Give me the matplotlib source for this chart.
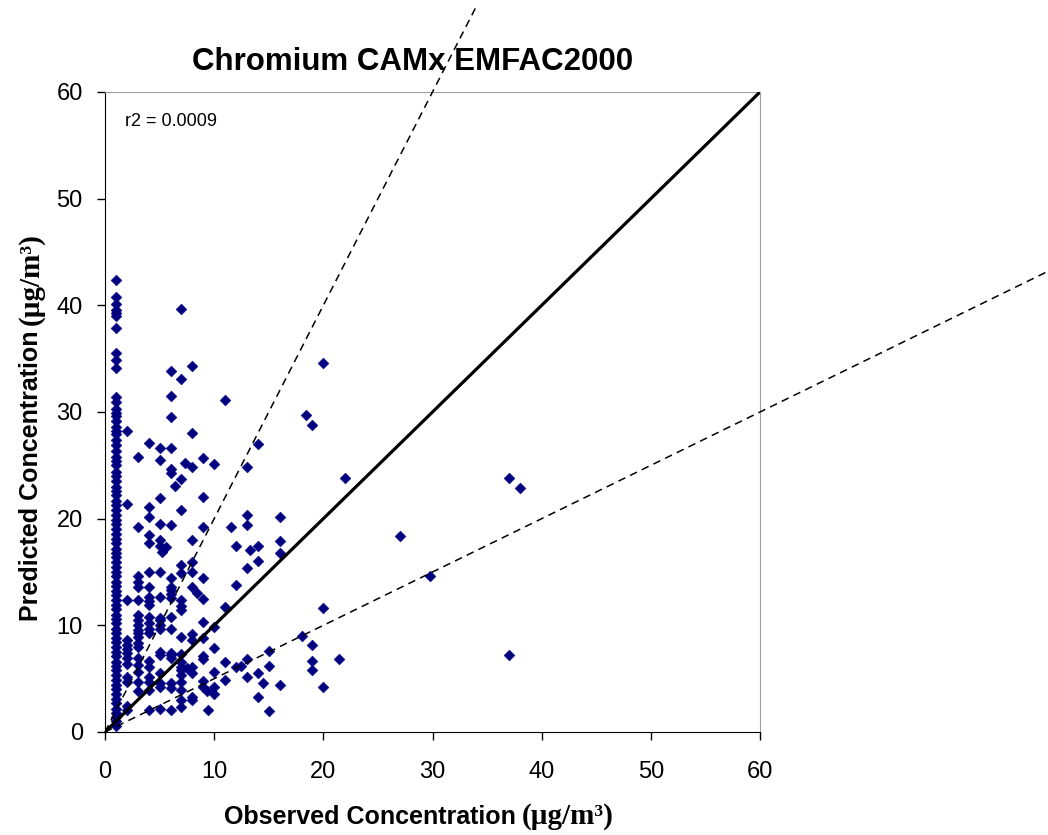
"""Chromium CAMx EMFAC2000: predicted vs observed concentration scatter."""

import matplotlib

matplotlib.use("Agg")
import matplotlib.pyplot as plt
import numpy as np

TITLE = "Chromium CAMx EMFAC2000"
R2_TEXT = "r2 = 0.0009"
X_HEAD, X_TAIL = "Observed Concentration", "(\u00b5g/m\u00b3)"
Y_HEAD, Y_TAIL = "Predicted Concentration", "(\u00b5g/m\u00b3)"
AXIS_TICKS = [0, 10, 20, 30, 40, 50, 60]

pred_obs1 = [
    42.4, 40.8, 40.1, 39.6, 39.3, 39.0, 37.9, 35.5, 34.9, 34.1,
    31.4, 30.9, 30.3, 29.9, 29.6, 29.2, 28.6, 28.2, 27.9, 27.4,
    26.9, 26.3, 25.8, 25.4, 25.0, 24.4, 24.0, 23.5, 23.0, 22.6,
    22.2, 21.7, 21.3, 20.8, 20.3, 19.9, 19.5, 19.0, 18.6, 18.1,
    17.7, 17.2, 16.8, 16.4, 15.9, 15.5, 15.0, 14.6, 14.1, 13.7,
    13.2, 12.8, 12.4, 11.9, 11.5, 11.0, 10.6, 10.2, 9.7, 9.3,
    8.8, 8.4, 8.0, 7.5, 7.1, 6.6, 6.2, 5.8, 5.3, 4.9,
    4.4, 4.0, 3.6, 3.1, 2.7, 2.2, 1.8, 1.4, 1.0, 0.6,
]
pred_obs2 = [28.2, 21.4, 12.4, 8.6, 8.2, 7.8, 7.4, 6.9, 6.4, 5.2, 4.7, 2.4, 2.1]
pred_obs3 = [25.8, 19.2, 14.6, 14.1, 13.6, 12.4, 11.0, 10.5, 10.0, 9.6,
             9.3, 8.9, 8.3, 8.0, 6.9, 6.3, 5.6, 4.7, 3.8]
pred_obs4 = [27.1, 21.1, 20.2, 18.5, 17.7, 15.0, 13.6, 12.7, 12.3, 11.9,
             10.8, 10.2, 9.7, 9.3, 6.7, 6.1, 5.2, 4.7, 3.9, 2.1]
pred_obs5 = [26.6, 25.5, 21.9, 19.5, 18.0, 17.4, 15.0, 12.7, 10.7, 10.5,
             10.0, 9.7, 7.5, 7.2, 5.5, 4.6, 4.2, 2.2]
pred_obs6 = [33.8, 31.5, 29.5, 26.6, 24.7, 24.3, 19.4, 14.4, 13.6, 13.3,
             12.9, 12.6, 10.8, 9.7, 7.4, 7.2, 6.9, 4.6, 4.1, 2.1]
pred_obs7 = [39.7, 33.1, 23.7, 20.8, 15.7, 14.9, 12.4, 11.8, 11.4, 8.9,
             7.3, 6.6, 6.1, 5.8, 5.3, 4.7, 3.9, 3.0, 2.3]
pred_obs8 = [34.3, 28.0, 24.8, 18.0, 15.9, 15.0, 13.6, 9.2, 8.6, 6.1,
             5.5, 3.3, 3.0]
pred_obs9 = [25.7, 22.0, 19.2, 14.4, 12.5, 10.3, 8.8, 7.1, 6.8, 4.8, 4.2]
pred_obs10 = [25.1, 9.8, 7.9, 5.6, 4.2, 3.6]

# remaining scattered sites
obs_other = [5.2, 5.6, 6.4, 7.3, 7.5, 8.4, 9.3, 9.4,
             11, 11, 11, 11, 11.5, 12, 12, 12, 12.5,
             13, 13, 13, 13, 13, 13, 13.3,
             14, 14, 14, 14, 14, 14.5, 15, 15, 15,
             16, 16, 16, 16, 18, 18.4, 19, 19, 19, 19,
             20, 20, 20, 21.4, 22, 27, 29.8, 37, 37, 38]
pred_other = [16.9, 17.3, 23.1, 25.2, 6.0, 13.0, 3.8, 2.1,
              31.1, 11.7, 6.6, 4.9, 19.2, 17.4, 13.8, 6.1, 6.2,
              24.8, 20.3, 19.4, 15.4, 6.8, 5.2, 17.1,
              27.0, 17.4, 16.0, 5.5, 3.3, 4.6, 7.6, 6.2, 2.0,
              20.2, 17.9, 16.8, 4.4, 9.0, 29.7, 28.8, 8.2, 6.7, 5.8,
              34.6, 11.6, 4.2, 6.8, 23.8, 18.4, 14.6, 23.8, 7.2, 22.9]

# reference lines: 1:1, 2:1 and 1:2 (dashed ones run past the frame)
one_to_one_x = np.array([0, 60])
two_to_one_x = np.array([0, 34])
one_to_two_x = np.array([0, 87])


def collect_points():
    columns = [pred_obs1, pred_obs2, pred_obs3, pred_obs4, pred_obs5,
               pred_obs6, pred_obs7, pred_obs8, pred_obs9, pred_obs10]
    xs, ys = [], []
    for obs, preds in enumerate(columns, start=1):
        xs.extend([obs] * len(preds))
        ys.extend(preds)
    xs.extend(obs_other)
    ys.extend(pred_other)
    return np.array(xs, dtype=float), np.array(ys, dtype=float)


def two_part_label(fig, head, tail, center, baseline, vertical=False,
                   size=18, tail_size=21):
    """Sans bold head followed by a serif bold unit, like the Excel original."""
    rot = 90 if vertical else 0
    common = dict(rotation=rot, rotation_mode="anchor", ha="left",
                  va="baseline", fontweight="bold")
    t1 = fig.text(0, 0, head, family="Liberation Sans", fontsize=size, **common)
    t2 = fig.text(0, 0, tail, family="Liberation Serif", fontsize=tail_size,
                  **common)
    fig.canvas.draw()
    W, H = fig.bbox.width, fig.bbox.height
    gap = 6.0
    if vertical:
        l1, l2 = t1.get_window_extent().height, t2.get_window_extent().height
        start = center - (l1 + gap + l2) / 2
        t1.set_position((baseline / W, start / H))
        t2.set_position((baseline / W, (start + l1 + gap) / H))
    else:
        l1, l2 = t1.get_window_extent().width, t2.get_window_extent().width
        start = center - (l1 + gap + l2) / 2
        t1.set_position((start / W, baseline / H))
        t2.set_position(((start + l1 + gap) / W, baseline / H))


def main():
    fig = plt.figure(figsize=(10.48, 8.35), dpi=100)
    ax = fig.add_axes([105 / 1048, 103 / 835, 655 / 1048, 640 / 835])

    obs, pred = collect_points()
    ax.scatter(obs, pred, marker="D", s=30, color="#000080",
               linewidths=0.4, edgecolors="#000080", zorder=2)

    ax.plot(one_to_one_x, one_to_one_x, color="black", lw=2.3, zorder=3)
    dash = dict(color="black", lw=1.1, dashes=(5, 3.5), zorder=3, clip_on=False)
    ax.plot(two_to_one_x, 2 * two_to_one_x, **dash)
    ax.plot(one_to_two_x, 0.5 * one_to_two_x, **dash)

    ax.set_xlim(0, 60)
    ax.set_ylim(0, 60)
    ax.set_xticks(AXIS_TICKS)
    ax.set_yticks(AXIS_TICKS)
    ax.tick_params(direction="out", length=6, width=1, labelsize=17,
                   top=False, right=False)
    ax.tick_params(axis="x", pad=15)
    ax.tick_params(axis="y", pad=10)
    for lab in ax.get_xticklabels() + ax.get_yticklabels():
        lab.set_family("Liberation Sans")
    for side in ("top", "right"):
        ax.spines[side].set_color("#a0a0a0")
    for side in ("left", "bottom"):
        ax.spines[side].set_color("black")

    ax.text(20 / 655, 610 / 640, R2_TEXT, transform=ax.transAxes,
            fontsize=13, family="Liberation Sans", va="center")
    fig.text(413 / 1048, 1 - 62 / 835, TITLE, ha="center", va="center",
             fontsize=22.5, fontweight="bold", family="Liberation Sans")

    two_part_label(fig, X_HEAD, X_TAIL, center=419, baseline=835 - 824)
    two_part_label(fig, Y_HEAD, Y_TAIL, center=835 - 427, baseline=38,
                   vertical=True)

    fig.savefig("out.png", dpi=100)
    plt.close(fig)


if __name__ == "__main__":
    main()
